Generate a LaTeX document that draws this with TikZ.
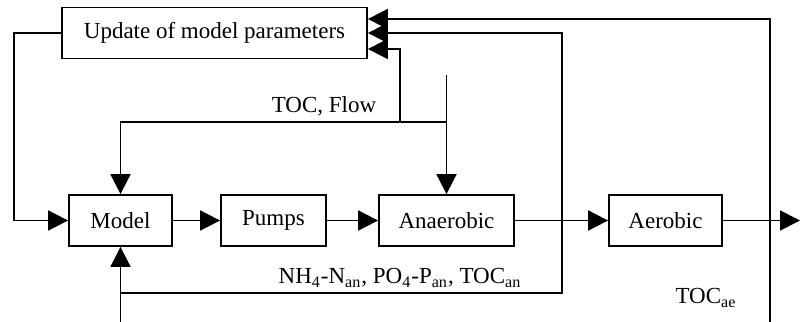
\documentclass[tikz,border=0pt]{standalone}
\usepackage{fontspec}
\setmainfont{Liberation Serif}
\usetikzlibrary{arrows.meta,calc}

\begin{document}
\begin{tikzpicture}[->,>={Triangle[length=10pt,width=10pt]},x=0.5pt,y=-0.5pt,line width=0.9pt,
  block/.style={draw,rectangle,minimum height=25.5pt,inner sep=0pt,font=\fontsize{11.5}{13}\selectfont},
  lbl/.style={font=\fontsize{11.5}{13}\selectfont,inner sep=0pt}]
\useasboundingbox (0,0) rectangle (800,322);
\node[block,minimum width=152.5pt] (upd) at (214.5,33) {Update of model parameters};
\node[block,minimum width=51.5pt] (model) at (120.5,220.5) {Model};
\node[block,minimum width=52.5pt] (pumps) at (273.5,220.5) {Pumps};
\node[block,minimum width=67.5pt] (anaer) at (446.5,220.5) {Anaerobic};
\node[block,minimum width=56.5pt] (aer) at (665.5,220.5) {Aerobic};
\node[lbl] (flowlbl) at (324,106) {TOC, Flow};
\node[lbl] (anlbl) at (400,278) {NH\textsubscript{4}-N\textsubscript{an}, PO\textsubscript{4}-P\textsubscript{an}, TOC\textsubscript{an}};
\node[lbl] (aelbl) at (706,298) {TOC\textsubscript{ae}};
% free ends and corners
\coordinate (lft) at (14,220.5);
\coordinate (out) at (800,220.5);
\coordinate (sig) at (446.5,75);
\coordinate (jn) at (446.5,122);
\coordinate (up) at (400,122);
\coordinate (bot) at (120.5,322);
\coordinate (mb) at (120.5,293);
\coordinate (r1) at (562,293);
\coordinate (r2) at (770,322);
\coordinate (u1) at ($(upd.east)+(0,-14)$);
\coordinate (u3) at ($(upd.east)+(0,16)$);
\path (model) edge (pumps)
(pumps) edge (anaer)
(anaer) edge (aer)
(aer) edge (out)
(sig) edge (anaer)
(bot) edge (model);
\draw (upd.west) -| (lft) -- (model.west);
\draw (jn) -| (model.north);
\draw (up) |- (u3);
\draw (mb) -- (r1) |- (upd.east);
\draw (r2) |- (u1);
\end{tikzpicture}
\end{document}
